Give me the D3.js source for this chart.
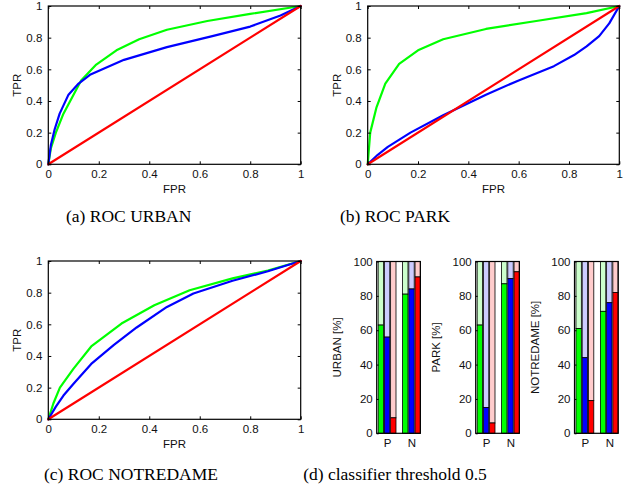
<!DOCTYPE html>
<html>
<head>
<meta charset="utf-8">
<script src="https://cdn.jsdelivr.net/npm/d3@7"></script>
<style>
  html, body { margin: 0; padding: 0; background: #fff; }
  svg { display: block; }
  .tick-label { font-family: "Liberation Sans", Arial, Helvetica, sans-serif; font-size: 11.5px; fill: #111; }
  .caption { font-family: "Liberation Serif", "Times New Roman", Times, serif; font-size: 17.5px; fill: #000; }
</style>
</head>
<body>
<svg id="chart" width="629" height="484"></svg>
<script>
// ---------- DATA ----------
const rocTicks = [0, 0.2, 0.4, 0.6, 0.8, 1];
const rocTickLabels = ["0", "0.2", "0.4", "0.6", "0.8", "1"];

// [FPR, TPR] points
const urbanGreen = [[0,0],[0.01,0.1],[0.03,0.2],[0.06,0.32],[0.09,0.41],[0.13,0.53],[0.19,0.63],[0.27,0.72],[0.36,0.79],[0.47,0.85],[0.63,0.905],[0.8,0.95],[1,1]];
const urbanBlue  = [[0,0],[0.01,0.12],[0.025,0.22],[0.045,0.32],[0.08,0.44],[0.12,0.51],[0.165,0.565],[0.3,0.66],[0.47,0.74],[0.65,0.81],[0.8,0.87],[0.92,0.94],[1,1]];
const urbanRed   = [[0,0],[1,1]];

const parkGreen = [[0,0],[0.005,0.1],[0.01,0.2],[0.035,0.36],[0.07,0.51],[0.125,0.635],[0.2,0.72],[0.3,0.79],[0.47,0.855],[0.67,0.905],[0.87,0.955],[1,1]];
const parkBlue  = [[0,0],[0.04,0.06],[0.08,0.11],[0.17,0.2],[0.3,0.31],[0.47,0.44],[0.6,0.53],[0.74,0.62],[0.82,0.69],[0.87,0.745],[0.92,0.81],[0.96,0.89],[1,1]];
const parkRed   = [[0,0],[1,1]];

const notredameGreen = [[0,0],[0.02,0.1],[0.046,0.2],[0.1,0.32],[0.17,0.46],[0.29,0.605],[0.42,0.72],[0.56,0.815],[0.73,0.89],[0.87,0.94],[1,1]];
const notredameBlue  = [[0,0],[0.03,0.08],[0.06,0.15],[0.1,0.225],[0.17,0.35],[0.26,0.47],[0.35,0.58],[0.47,0.71],[0.575,0.795],[0.73,0.875],[0.87,0.935],[1,1]];
const notredameRed   = [[0,0],[1,1]];

const barGroups = ["P", "N"];
const barTicks = [0, 20, 40, 60, 80, 100];
const urbanGreenPct = [63, 81];
const urbanBluePct  = [56, 84];
const urbanRedPct   = [9, 91];
const parkGreenPct = [63, 87];
const parkBluePct  = [15, 90];
const parkRedPct   = [6, 94];
const notredameGreenPct = [61, 71];
const notredameBluePct  = [44, 76];
const notredameRedPct   = [19, 82];

const captions = ["(a) ROC URBAN", "(b) ROC PARK", "(c) ROC NOTREDAME", "(d) classifier threshold 0.5"];

// ---------- STYLE ----------
const GREEN = "#00ff00", BLUE = "#0000ff", RED = "#ff0000";
const LIGHT = { green: "#ccffcc", blue: "#ccccff", red: "#ffcccc" };

const svg = d3.select("#chart");

function rocPanel(left, top, right, bottom, series) {
  const x = d3.scaleLinear().domain([0, 1]).range([left, right]);
  const y = d3.scaleLinear().domain([0, 1]).range([bottom, top]);
  const g = svg.append("g");
  const line = d3.line().x(d => x(d[0])).y(d => y(d[1]));
  series.forEach(s => {
    g.append("path").datum(s.data).attr("d", line)
      .attr("fill", "none").attr("stroke", s.color).attr("stroke-width", 2.2)
      .attr("stroke-linejoin", "round").attr("stroke-linecap", "round");
  });
  // axes (inward ticks, mirrored)
  const tl = 3;
  const axB = d3.axisBottom(x).tickValues(rocTicks).tickSize(-tl).tickFormat((d, i) => rocTickLabels[i]).tickPadding(6);
  const axT = d3.axisTop(x).tickValues(rocTicks).tickSize(-tl).tickFormat("");
  const axL = d3.axisLeft(y).tickValues(rocTicks).tickSize(-tl).tickFormat((d, i) => rocTickLabels[i]).tickPadding(6);
  const axR = d3.axisRight(y).tickValues(rocTicks).tickSize(-tl).tickFormat("");
  [[axB, `translate(0,${bottom})`], [axT, `translate(0,${top})`], [axL, `translate(${left},0)`], [axR, `translate(${right},0)`]]
    .forEach(([ax, tr]) => {
      const a = g.append("g").attr("transform", tr).call(ax);
      a.select(".domain").remove();
      a.selectAll("line").attr("stroke", "#000").attr("stroke-width", 1);
      a.selectAll("text").attr("class", "tick-label").attr("font-family", null).attr("font-size", null);
    });
  g.append("rect").attr("x", left).attr("y", top).attr("width", right - left).attr("height", bottom - top)
    .attr("fill", "none").attr("stroke", "#000").attr("stroke-width", 1.2);
  g.append("text").attr("class", "tick-label").attr("x", (left + right) / 2).attr("y", bottom + 29)
    .attr("text-anchor", "middle").text("FPR");
  g.append("text").attr("class", "tick-label")
    .attr("transform", `translate(${left - 27},${(top + bottom) / 2}) rotate(-90)`)
    .attr("text-anchor", "middle").text("TPR");
}

function barPanel(left, top, right, bottom, label, green, blue, red) {
  const g = svg.append("g");
  const x = d3.scaleLinear().domain([0.575, 2.36]).range([left, right]);
  const y = d3.scaleLinear().domain([0, 100]).range([bottom, top]);
  const offsets = [-0.255, 0, 0.255];
  const bw = 0.22;
  const sets = [{ v: green, c: GREEN, l: LIGHT.green }, { v: blue, c: BLUE, l: LIGHT.blue }, { v: red, c: RED, l: LIGHT.red }];
  barGroups.forEach((grp, gi) => {
    sets.forEach((s, si) => {
      const cx = gi + 1 + offsets[si];
      const x0 = x(cx - bw / 2), x1 = x(cx + bw / 2);
      g.append("rect").attr("x", x0).attr("y", y(100)).attr("width", x1 - x0).attr("height", y(s.v[gi]) - y(100))
        .attr("fill", s.l).attr("stroke", "#000").attr("stroke-width", 0.8);
      g.append("rect").attr("x", x0).attr("y", y(s.v[gi])).attr("width", x1 - x0).attr("height", y(0) - y(s.v[gi]))
        .attr("fill", s.c).attr("stroke", "#000").attr("stroke-width", 0.8);
    });
  });
  const axL = d3.axisLeft(y).tickValues(barTicks).tickSize(-2).tickPadding(4);
  const a = g.append("g").attr("transform", `translate(${left},0)`).call(axL);
  a.select(".domain").remove();
  a.selectAll("line").attr("stroke", "#000");
  a.selectAll("text").attr("class", "tick-label").attr("font-family", null).attr("font-size", null);
  const axB = d3.axisBottom(x).tickValues([1, 2]).tickSize(0).tickPadding(6).tickFormat((d, i) => barGroups[i]);
  const b = g.append("g").attr("transform", `translate(0,${bottom})`).call(axB);
  b.select(".domain").remove();
  b.selectAll("text").attr("class", "tick-label").attr("font-family", null).attr("font-size", null);
  g.append("rect").attr("x", left).attr("y", top).attr("width", right - left).attr("height", bottom - top)
    .attr("fill", "none").attr("stroke", "#000").attr("stroke-width", 1.2);
  g.append("text").attr("class", "tick-label")
    .attr("transform", `translate(${left - 36},${(top + bottom) / 2}) rotate(-90)`)
    .attr("text-anchor", "middle").text(label);
}

rocPanel(48.3, 6, 300.7, 164.3, [{ data: urbanGreen, color: GREEN }, { data: urbanBlue, color: BLUE }, { data: urbanRed, color: RED }]);
rocPanel(367.7, 6, 619.3, 164.3, [{ data: parkGreen, color: GREEN }, { data: parkBlue, color: BLUE }, { data: parkRed, color: RED }]);
rocPanel(48.3, 261, 300.7, 419.3, [{ data: notredameGreen, color: GREEN }, { data: notredameBlue, color: BLUE }, { data: notredameRed, color: RED }]);

barPanel(376.7, 261.5, 420.3, 433.3, "URBAN [%]", urbanGreenPct, urbanBluePct, urbanRedPct);
barPanel(475.7, 261.5, 519.3, 433.3, "PARK [%]", parkGreenPct, parkBluePct, parkRedPct);
barPanel(574.5, 261.5, 618.1, 433.3, "NOTREDAME [%]", notredameGreenPct, notredameBluePct, notredameRedPct);

const capPos = [[128.7, 222], [395, 222], [131, 479.5], [395, 479.5]];
captions.forEach((c, i) => {
  svg.append("text").attr("class", "caption").attr("x", capPos[i][0]).attr("y", capPos[i][1])
    .attr("text-anchor", "middle").text(c);
});
</script>
</body>
</html>
